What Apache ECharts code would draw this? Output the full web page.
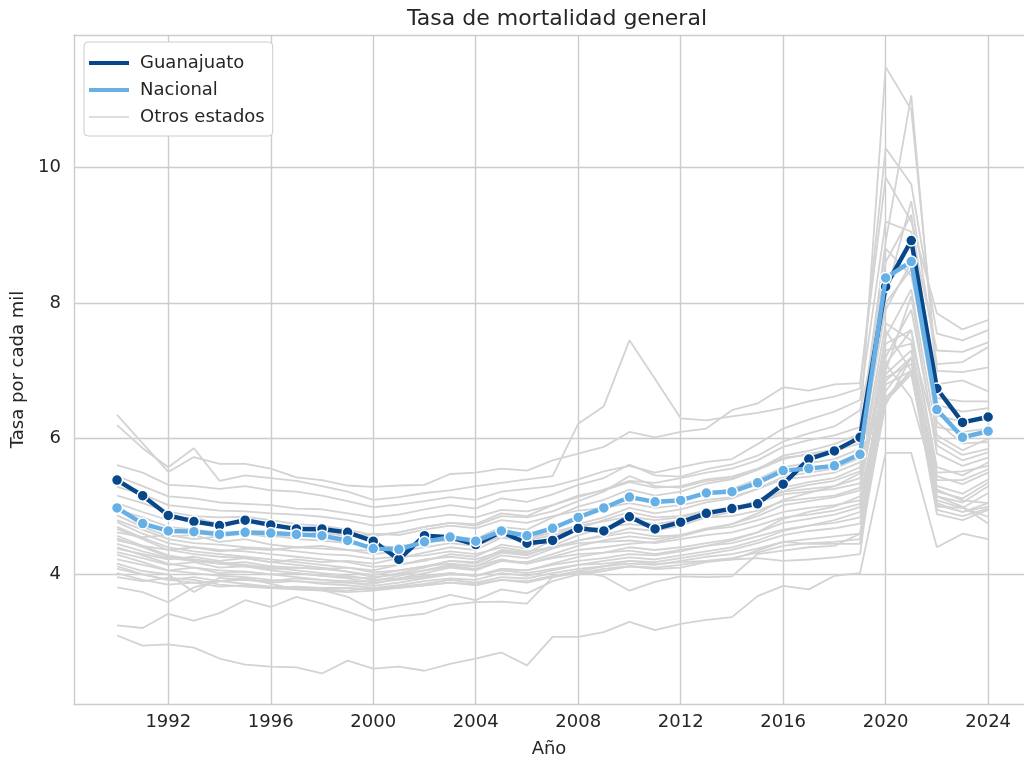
<!DOCTYPE html>
<html>
<head>
<meta charset="utf-8">
<script src="https://cdn.jsdelivr.net/npm/echarts@6/dist/echarts.min.js"></script>
<style>
  html, body { margin: 0; padding: 0; background: #fff; }
  #chart { width: 1024px; height: 767px; }
</style>
</head>
<body>
<div id="chart"></div>
<script>
// años 1990-2024
const years = [1990, 1991, 1992, 1993, 1994, 1995, 1996, 1997, 1998, 1999,
  2000, 2001, 2002, 2003, 2004, 2005, 2006, 2007, 2008, 2009,
  2010, 2011, 2012, 2013, 2014, 2015, 2016, 2017, 2018, 2019,
  2020, 2021, 2022, 2023, 2024];

const xTicks = [1992, 1996, 2000, 2004, 2008, 2012, 2016, 2020, 2024];
const yTicks = [4, 6, 8, 10];

const guanajuato = [5.39, 5.16, 4.87, 4.78, 4.72, 4.80, 4.73, 4.67, 4.67, 4.62,
  4.49, 4.22, 4.57, 4.55, 4.44, 4.63, 4.46, 4.50, 4.68, 4.64,
  4.85, 4.67, 4.77, 4.90, 4.97, 5.04, 5.33, 5.70, 5.82, 6.02,
  8.24, 8.92, 6.74, 6.24, 6.32];

const nacional = [4.98, 4.75, 4.64, 4.63, 4.59, 4.62, 4.61, 4.59, 4.57, 4.50,
  4.38, 4.37, 4.48, 4.55, 4.49, 4.64, 4.57, 4.68, 4.84, 4.98,
  5.14, 5.07, 5.09, 5.20, 5.22, 5.35, 5.53, 5.56, 5.60, 5.77,
  8.37, 8.61, 6.43, 6.02, 6.11];

// otros estados (una fila por estado, 1990-2024)
const otrosEstados = [
  [6.35, 5.93, 5.51, 5.73, 5.63, 5.63, 5.56, 5.43, 5.39, 5.31, 5.29, 5.31, 5.32, 5.48, 5.50, 5.56, 5.53, 5.68, 5.78, 5.88, 6.10, 6.02, 6.10, 6.15, 6.42, 6.52, 6.76, 6.71, 6.80, 6.82, 9.85, 9.20, 7.85, 7.61, 7.75],
  [6.20, 5.86, 5.58, 5.86, 5.38, 5.46, 5.42, 5.38, 5.30, 5.22, 5.10, 5.14, 5.20, 5.24, 5.30, 5.35, 5.40, 5.45, 6.22, 6.48, 7.45, 6.88, 6.30, 6.27, 6.33, 6.38, 6.45, 6.55, 6.62, 6.74, 10.28, 9.75, 7.55, 7.45, 7.60],
  [5.61, 5.50, 5.32, 5.30, 5.26, 5.30, 5.24, 5.22, 5.16, 5.08, 4.99, 5.03, 5.08, 5.14, 5.10, 5.22, 5.26, 5.30, 5.40, 5.52, 5.60, 5.50, 5.58, 5.66, 5.70, 5.92, 6.15, 6.28, 6.40, 6.57, 9.20, 9.05, 7.30, 7.28, 7.42],
  [5.45, 5.30, 5.15, 5.12, 5.06, 5.04, 5.02, 4.97, 4.96, 4.90, 4.84, 4.88, 4.96, 5.02, 4.97, 5.12, 5.07, 5.18, 5.32, 5.42, 5.62, 5.46, 5.44, 5.55, 5.62, 5.75, 5.96, 6.08, 6.18, 6.42, 8.10, 9.50, 7.10, 7.13, 7.35],
  [5.29, 5.18, 5.02, 4.98, 4.94, 4.93, 4.90, 4.88, 4.85, 4.80, 4.72, 4.76, 4.83, 4.88, 4.84, 4.95, 4.93, 5.02, 5.14, 5.25, 5.38, 5.35, 5.42, 5.50, 5.56, 5.68, 5.88, 5.98, 6.05, 6.17, 11.48, 10.85, 7.00, 6.98, 7.05],
  [5.16, 5.05, 4.92, 4.86, 4.84, 4.85, 4.80, 4.74, 4.72, 4.66, 4.58, 4.62, 4.70, 4.76, 4.72, 4.86, 4.84, 4.93, 5.08, 5.22, 5.45, 5.30, 5.28, 5.38, 5.42, 5.55, 5.75, 5.82, 5.92, 6.07, 8.90, 11.06, 6.80, 6.86, 6.70],
  [4.62, 4.55, 4.58, 4.52, 4.56, 4.60, 4.55, 4.58, 4.62, 4.56, 4.60, 4.58, 4.66, 4.72, 4.68, 4.80, 4.76, 4.86, 4.94, 4.98, 5.05, 4.98, 5.02, 5.10, 5.14, 5.26, 5.40, 5.44, 5.50, 5.65, 8.30, 8.90, 6.17, 6.10, 6.15],
  [5.05, 4.92, 4.80, 4.84, 4.74, 4.78, 4.70, 4.66, 4.62, 4.60, 4.56, 4.62, 4.70, 4.76, 4.74, 4.90, 4.86, 5.02, 5.16, 5.24, 5.36, 5.28, 5.30, 5.40, 5.44, 5.56, 5.72, 5.76, 5.82, 5.93, 8.60, 9.30, 6.50, 6.40, 6.45],
  [4.95, 4.84, 4.70, 4.66, 4.62, 4.60, 4.58, 4.52, 4.50, 4.46, 4.42, 4.40, 4.48, 4.50, 4.46, 4.56, 4.50, 4.58, 4.66, 4.70, 4.74, 4.70, 4.76, 4.84, 4.86, 4.94, 5.08, 5.12, 5.16, 5.28, 7.40, 7.60, 5.50, 5.52, 5.60],
  [4.50, 4.42, 4.36, 4.40, 4.34, 4.38, 4.36, 4.40, 4.38, 4.36, 4.35, 4.42, 4.46, 4.56, 4.52, 4.70, 4.66, 4.84, 5.00, 5.10, 5.25, 5.16, 5.22, 5.34, 5.40, 5.54, 5.70, 5.78, 5.84, 5.98, 8.80, 8.40, 6.60, 6.55, 6.55],
  [4.87, 4.70, 4.56, 4.58, 4.48, 4.52, 4.44, 4.40, 4.42, 4.36, 4.30, 4.34, 4.40, 4.46, 4.42, 4.56, 4.52, 4.62, 4.72, 4.78, 4.85, 4.80, 4.84, 4.92, 4.96, 5.06, 5.22, 5.26, 5.30, 5.42, 7.00, 8.10, 5.78, 5.60, 5.72],
  [4.80, 4.66, 4.52, 4.46, 4.44, 4.40, 4.38, 4.34, 4.30, 4.28, 4.23, 4.26, 4.28, 4.34, 4.30, 4.40, 4.34, 4.40, 4.46, 4.48, 4.50, 4.46, 4.52, 4.58, 4.62, 4.72, 4.84, 4.88, 4.94, 5.04, 6.85, 7.20, 5.30, 5.19, 5.40],
  [4.38, 4.30, 4.22, 4.26, 4.20, 4.24, 4.18, 4.22, 4.18, 4.20, 4.16, 4.24, 4.32, 4.40, 4.36, 4.54, 4.50, 4.68, 4.86, 4.98, 5.15, 5.04, 5.10, 5.20, 5.26, 5.40, 5.58, 5.64, 5.70, 5.85, 7.90, 8.60, 6.34, 6.25, 6.30],
  [4.77, 4.60, 4.46, 4.40, 4.36, 4.34, 4.30, 4.26, 4.22, 4.18, 4.11, 4.14, 4.22, 4.26, 4.22, 4.34, 4.30, 4.40, 4.50, 4.56, 4.62, 4.56, 4.58, 4.66, 4.70, 4.80, 4.92, 4.98, 5.02, 5.09, 6.95, 7.30, 5.22, 5.12, 5.35],
  [4.33, 4.24, 4.14, 4.18, 4.10, 4.12, 4.08, 4.10, 4.08, 4.10, 4.06, 4.14, 4.20, 4.30, 4.26, 4.44, 4.38, 4.56, 4.74, 4.84, 4.98, 4.90, 4.96, 5.06, 5.12, 5.26, 5.44, 5.50, 5.56, 5.72, 8.00, 8.50, 6.25, 5.93, 5.95],
  [4.70, 4.54, 4.40, 4.34, 4.30, 4.26, 4.22, 4.18, 4.14, 4.10, 4.03, 4.06, 4.12, 4.16, 4.12, 4.22, 4.16, 4.24, 4.30, 4.32, 4.35, 4.30, 4.36, 4.42, 4.46, 4.56, 4.66, 4.72, 4.76, 4.84, 6.60, 7.00, 5.09, 4.98, 5.20],
  [4.45, 4.34, 4.24, 4.20, 4.16, 4.18, 4.12, 4.10, 4.08, 4.04, 3.99, 4.06, 4.12, 4.20, 4.16, 4.32, 4.28, 4.42, 4.58, 4.68, 4.80, 4.74, 4.80, 4.90, 4.96, 5.10, 5.28, 5.36, 5.42, 5.58, 7.70, 7.45, 5.98, 5.76, 5.85],
  [4.67, 4.52, 4.36, 4.30, 4.26, 4.24, 4.18, 4.14, 4.10, 4.04, 3.96, 4.00, 4.06, 4.12, 4.08, 4.20, 4.16, 4.26, 4.36, 4.40, 4.45, 4.48, 4.56, 4.66, 4.74, 4.90, 5.10, 5.20, 5.30, 5.49, 7.20, 7.90, 5.90, 5.68, 5.80],
  [4.22, 4.14, 4.06, 4.10, 4.02, 4.04, 4.00, 4.02, 3.98, 3.96, 3.94, 4.02, 4.10, 4.20, 4.18, 4.36, 4.32, 4.50, 4.68, 4.80, 4.92, 4.84, 4.86, 4.94, 4.98, 5.06, 5.18, 5.22, 5.26, 5.34, 7.10, 7.60, 5.58, 5.46, 5.65],
  [4.57, 4.42, 4.28, 4.22, 4.18, 4.14, 4.10, 4.06, 4.02, 3.98, 3.92, 3.94, 3.98, 4.02, 3.98, 4.06, 4.02, 4.08, 4.14, 4.16, 4.20, 4.18, 4.24, 4.30, 4.36, 4.46, 4.58, 4.64, 4.68, 4.75, 6.55, 6.95, 5.02, 4.92, 5.05],
  [4.16, 4.05, 4.00, 3.74, 3.95, 3.92, 3.90, 3.94, 3.92, 3.90, 3.90, 3.98, 4.06, 4.14, 4.12, 4.28, 4.24, 4.38, 4.50, 4.58, 4.68, 4.64, 4.72, 4.84, 4.92, 5.06, 5.24, 5.32, 5.38, 5.52, 7.50, 8.20, 6.05, 5.83, 6.00],
  [4.53, 4.40, 4.26, 4.20, 4.16, 4.12, 4.06, 4.02, 3.98, 3.94, 3.88, 3.92, 3.96, 4.02, 3.98, 4.08, 4.06, 4.14, 4.20, 4.24, 4.30, 4.28, 4.34, 4.42, 4.50, 4.62, 4.82, 4.92, 5.00, 5.15, 6.90, 7.10, 5.45, 5.33, 5.50],
  [4.08, 4.00, 3.92, 3.96, 3.90, 3.92, 3.88, 3.90, 3.88, 3.88, 3.86, 3.94, 4.02, 4.10, 4.06, 4.20, 4.18, 4.30, 4.42, 4.50, 4.56, 4.52, 4.58, 4.68, 4.74, 4.86, 5.02, 5.08, 5.14, 5.24, 7.30, 7.40, 5.39, 5.39, 5.55],
  [4.40, 4.28, 4.16, 4.10, 4.06, 4.04, 4.00, 3.96, 3.92, 3.88, 3.83, 3.88, 3.94, 4.00, 3.98, 4.08, 4.06, 4.16, 4.26, 4.32, 4.40, 4.36, 4.40, 4.46, 4.52, 4.62, 4.76, 4.82, 4.88, 4.99, 6.80, 7.00, 5.15, 5.06, 5.30],
  [4.29, 4.18, 4.06, 4.02, 3.98, 3.96, 3.92, 3.90, 3.86, 3.84, 3.80, 3.84, 3.90, 3.94, 3.92, 4.02, 3.98, 4.06, 4.14, 4.20, 4.25, 4.22, 4.28, 4.34, 4.40, 4.50, 4.64, 4.72, 4.80, 4.92, 6.70, 7.20, 4.95, 4.86, 4.97],
  [4.02, 3.92, 3.85, 3.88, 3.82, 3.84, 3.80, 3.82, 3.80, 3.80, 3.78, 3.82, 3.86, 3.92, 3.88, 3.96, 3.94, 4.02, 4.08, 4.12, 4.16, 4.14, 4.20, 4.26, 4.30, 4.38, 4.48, 4.52, 4.56, 4.60, 6.60, 7.00, 5.00, 4.98, 4.85],
  [3.96, 3.90, 3.95, 3.92, 3.85, 3.82, 3.80, 3.78, 3.76, 3.74, 3.76, 3.80, 3.84, 3.88, 3.84, 3.92, 3.88, 3.96, 4.02, 4.08, 4.12, 4.10, 4.14, 4.20, 4.24, 4.32, 4.42, 4.46, 4.48, 4.52, 7.60, 7.00, 4.89, 4.80, 4.95],
  [3.81, 3.74, 3.59, 3.81, 3.90, 3.95, 3.86, 3.78, 3.77, 3.67, 3.47, 3.54, 3.60, 3.70, 3.62, 3.78, 3.72, 3.90, 4.00, 4.05, 4.12, 4.08, 4.10, 4.18, 4.22, 4.35, 4.48, 4.45, 4.45, 4.45, 6.55, 7.00, 5.15, 5.00, 4.75],
  [4.12, 4.00, 3.92, 3.88, 3.90, 3.86, 3.82, 3.80, 3.78, 3.76, 3.80, 3.80, 3.84, 3.88, 3.86, 3.92, 3.90, 3.98, 4.05, 4.12, 4.20, 4.15, 4.18, 4.20, 4.22, 4.24, 4.20, 4.22, 4.25, 4.30, 7.10, 6.60, 5.25, 5.09, 5.05],
  [3.25, 3.21, 3.42, 3.32, 3.43, 3.62, 3.52, 3.67, 3.57, 3.45, 3.32, 3.38, 3.42, 3.55, 3.59, 3.60, 3.57, 3.96, 4.05, 3.97, 3.76, 3.89, 3.97, 3.96, 3.97, 4.30, 4.35, 4.40, 4.42, 4.60, 6.50, 7.20, 5.05, 4.92, 5.00],
  [3.10, 2.95, 2.97, 2.92, 2.76, 2.67, 2.64, 2.63, 2.54, 2.73, 2.61, 2.64, 2.58, 2.68, 2.76, 2.85, 2.66, 3.08, 3.08, 3.15, 3.30, 3.18, 3.27, 3.33, 3.37, 3.68, 3.83, 3.78, 3.98, 4.02, 5.79, 5.79, 4.40, 4.60, 4.52]
];

const FONT = 'DejaVu Sans';
const TEXT = '#262626';
const GRID = '#cccccc';
const GRIS = '#d3d3d3';
const AZUL_OSCURO = '#07478a';
const AZUL_CLARO = '#66b0e6';

const pares = (vals) => years.map((y, i) => [y, vals[i]]);

const series = [];
// líneas grises de fondo
otrosEstados.forEach((fila) => {
  series.push({
    name: 'Otros estados',
    type: 'line',
    data: pares(fila),
    symbol: 'none',
    silent: true,
    z: 1,
    lineStyle: { color: GRIS, width: 1.8 },
    itemStyle: { color: GRIS }
  });
});

series.push({
  name: 'Guanajuato',
  type: 'line',
  data: pares(guanajuato),
  symbol: 'circle',
  symbolSize: 11,
  z: 3,
  lineStyle: { color: AZUL_OSCURO, width: 4.4 },
  itemStyle: { color: AZUL_OSCURO, borderColor: '#ffffff', borderWidth: 1.5 }
});

series.push({
  name: 'Nacional',
  type: 'line',
  data: pares(nacional),
  symbol: 'circle',
  symbolSize: 11,
  z: 4,
  lineStyle: { color: AZUL_CLARO, width: 4.4 },
  itemStyle: { color: AZUL_CLARO, borderColor: '#ffffff', borderWidth: 1.5 }
});

const chart = echarts.init(document.getElementById('chart'), null, { renderer: 'canvas' });

chart.setOption({
  animation: false,
  backgroundColor: '#ffffff',
  textStyle: { fontFamily: FONT, color: TEXT },
  title: {
    text: 'Tasa de mortalidad general',
    left: 552,
    top: 3,
    textAlign: 'center',
    textStyle: { fontFamily: FONT, fontSize: 22, fontWeight: 'normal', color: TEXT }
  },
  legend: {
    orient: 'vertical',
    left: 84,
    top: 42,
    padding: [12, 8, 10, 5],
    itemWidth: 40,
    itemHeight: 14,
    itemGap: 9,
    selectedMode: false,
    backgroundColor: '#ffffff',
    borderColor: GRID,
    borderWidth: 1,
    borderRadius: 4,
    itemStyle: { borderWidth: 0 },
    textStyle: { fontFamily: FONT, fontSize: 18, color: TEXT, padding: [0, 0, 0, 6] },
    data: [
      { name: 'Guanajuato', icon: 'path://M0,0H40V4H0Z' },
      { name: 'Nacional', icon: 'path://M0,0H40V4H0Z' },
      { name: 'Otros estados', icon: 'path://M0,0H40V1.6H0Z' }
    ]
  },
  grid: { left: 74, right: 0, top: 35, bottom: 63, containLabel: false },
  xAxis: [{
    type: 'value',
    min: 1988.32,
    max: 2025.4,
    name: 'Año',
    nameLocation: 'middle',
    nameGap: 36,
    nameTextStyle: { fontFamily: FONT, fontSize: 18, color: TEXT },
    axisLine: { show: true, lineStyle: { color: GRID, width: 1.4 } },
    axisTick: { show: false, customValues: xTicks },
    axisLabel: {
      customValues: xTicks, margin: 9, fontFamily: FONT, fontSize: 18, color: TEXT,
      formatter: (v) => String(v)
    },
    splitLine: { show: true, lineStyle: { color: GRID, width: 1.4 } }
  }, {
    type: 'value',
    position: 'top',
    min: 1988.32,
    max: 2025.4,
    axisLine: { show: true, onZero: false, lineStyle: { color: GRID, width: 1.4 } },
    axisTick: { show: false },
    axisLabel: { show: false },
    splitLine: { show: false }
  }],
  yAxis: {
    type: 'value',
    min: 2.09,
    max: 11.95,
    name: 'Tasa por cada mil',
    nameLocation: 'middle',
    nameGap: 44,
    nameTextStyle: { fontFamily: FONT, fontSize: 18, color: TEXT },
    axisLine: { show: true, lineStyle: { color: GRID, width: 1.4 } },
    axisTick: { show: false, customValues: yTicks },
    axisLabel: { customValues: yTicks, margin: 13, fontFamily: FONT, fontSize: 18, color: TEXT },
    splitLine: { show: true, lineStyle: { color: GRID, width: 1.4 } }
  },
  series: series
});
</script>
</body>
</html>
